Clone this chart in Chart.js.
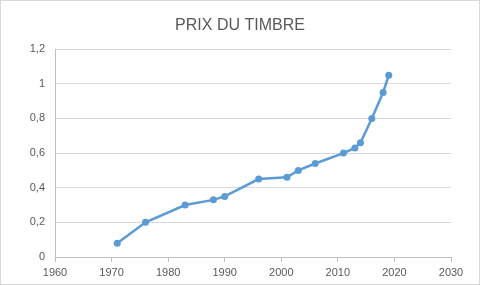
<!DOCTYPE html>
<html>
<head>
<meta charset="utf-8">
<script src="https://cdn.jsdelivr.net/npm/chart.js@4"></script>
<style>
  html, body { margin: 0; padding: 0; background: #fff; }
  #wrap { width: 480px; height: 285px; box-sizing: border-box; border: 1px solid #d9d9d9; position: relative; }
</style>
</head>
<body>
<div id="wrap"><canvas id="timbreChart"></canvas></div>
<script>
// ===== DATA =====
const years = [1971, 1976, 1983, 1988, 1990, 1996, 2001, 2003, 2006, 2011, 2013, 2014, 2016, 2018, 2019];
const prices = [0.08, 0.20, 0.30, 0.33, 0.35, 0.45, 0.46, 0.50, 0.54, 0.60, 0.63, 0.66, 0.80, 0.95, 1.05];
const titleText = 'PRIX DU TIMBRE';

const textColor = '#595959';
const font = { family: '"Liberation Sans", Arial, sans-serif', size: 11 };

// ===== CHART =====
const ctx = document.getElementById('timbreChart');
new Chart(ctx, {
  type: 'scatter',
  data: {
    datasets: [{
      data: years.map((y, i) => ({ x: y, y: prices[i] })),
      showLine: true,
      borderColor: '#5b9bd5',
      backgroundColor: '#5b9bd5',
      borderWidth: 2.5,
      pointRadius: 3.5,
      pointBorderWidth: 0,
      tension: 0
    }]
  },
  options: {
    responsive: true,
    maintainAspectRatio: false,
    animation: false,
    layout: { padding: 0 },
    plugins: {
      legend: { display: false },
      tooltip: { enabled: false },
      title: {
        display: true,
        text: titleText,
        color: textColor,
        font: { family: font.family, size: 16, weight: 'normal' },
        padding: { top: 15, bottom: 14 }
      }
    },
    scales: {
      x: {
        type: 'linear',
        min: 1960, max: 2030,
        ticks: { stepSize: 10, color: textColor, font, padding: 4, callback: v => String(v) },
        grid: { drawOnChartArea: false, drawTicks: true, tickLength: 5, color: '#bfbfbf' },
        border: { color: '#bfbfbf' },
        afterFit: s => { s.height = 27; }
      },
      y: {
        min: 0, max: 1.2,
        ticks: {
          stepSize: 0.2, color: textColor, font, padding: 10,
          callback: v => String(Math.round(v * 10) / 10).replace('.', ',')
        },
        grid: { color: '#d9d9d9', drawTicks: false },
        border: { color: '#bfbfbf' },
        afterFit: s => { s.width = 54; }
      },
      // empty right-hand spacer so the plot ends where the reference does
      yRight: {
        position: 'right',
        min: 0, max: 1.2,
        ticks: { display: false },
        grid: { display: false },
        border: { display: false },
        afterFit: s => { s.width = 28; }
      }
    }
  }
});
</script>
</body>
</html>
